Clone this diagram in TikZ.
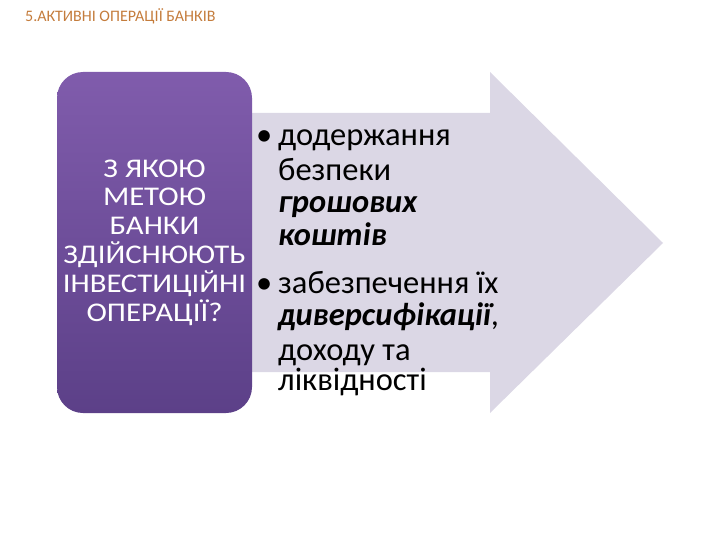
\documentclass[tikz,border=0pt]{standalone}
\usepackage{fontspec}
\setmainfont{Carlito}
\newfontfamily\widefont[FakeStretch=1.14]{Carlito}
\usetikzlibrary{positioning}

\definecolor{titlecol}{RGB}{196,124,60}
\definecolor{boxtop}{RGB}{128,92,172}
\definecolor{boxbottom}{RGB}{92,64,136}
\definecolor{arrowcol}{RGB}{219,215,229}

\newcommand{\keyword}[1]{{\bfseries\itshape #1}}

\begin{document}
\begin{tikzpicture}[x=1pt,y=-1pt,
  title node/.style={anchor=base west,inner sep=0pt,text=titlecol,font=\fontsize{16}{18}\selectfont},
  question box/.style={rounded corners=26pt,minimum width=195pt,minimum height=341pt,
    top color=boxtop,bottom color=boxbottom,inner sep=0pt},
  question text/.style={text=white,align=center,font=\widefont\fontsize{27}{28.8}\selectfont},
  line node/.style={anchor=base west,inner sep=0pt,font=\fontsize{32.5}{34}\selectfont},
  dot node/.style={anchor=base west,inner sep=0pt,font=\fontsize{32.5}{34}\selectfont}]

\useasboundingbox (0,0) rectangle (720,540);

% background arrow
\fill[arrowcol] (150,113) -- (490,113) -- (490,72) -- (663,243) -- (490,413)
  -- (490,372) -- (150,372) -- cycle;

% question box
\node[question box] (q) at (154.5,242.5) {};
\node[question text] (qt) at (q.center) {З ЯКОЮ\\МЕТОЮ\\БАНКИ\\ЗДІЙСНЮЮТЬ\\ІНВЕСТИЦІЙНІ\\ОПЕРАЦІЇ?};

% title
\node[title node] (title) at (25,22) {5.АКТИВНІ ОПЕРАЦІЇ БАНКІВ};

% answers
\node[dot node] (d1) at (256,146) {•};
\node[line node] (l1) at (278,146) {додержання};
\node[line node] (l2) at (278,181) {безпеки};
\node[line node] (l3) at (278,213) {\keyword{грошових}};
\node[line node] (l4) at (278,245) {\keyword{коштів}};
\node[dot node] (d2) at (256,293) {•};
\node[line node] (l5) at (278,293) {забезпечення їх};
\node[line node] (l6) at (278,325) {\keyword{диверсифікації},};
\node[line node] (l7) at (278,360) {доходу та};
\node[line node] (l8) at (278,390) {ліквідності};

\end{tikzpicture}
\end{document}
